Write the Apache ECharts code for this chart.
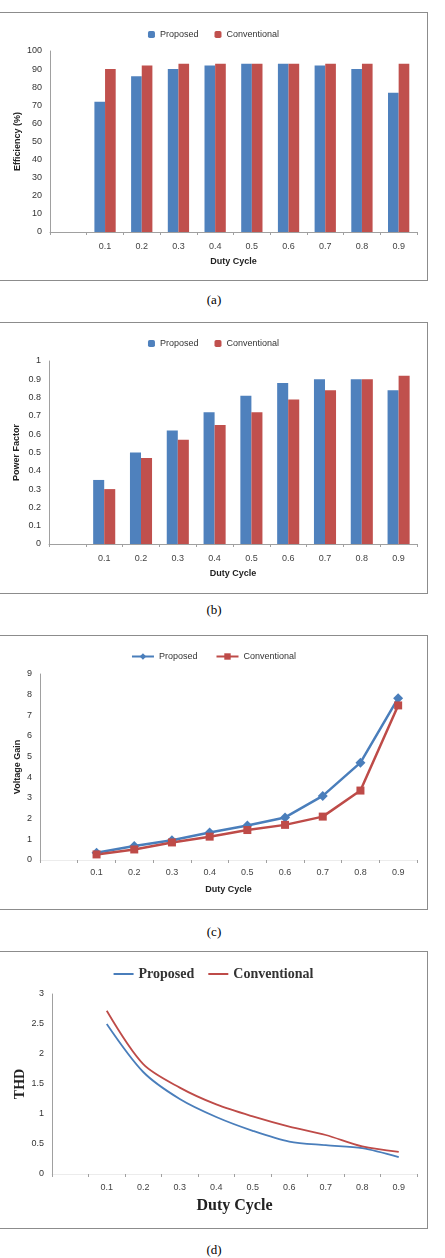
<!DOCTYPE html>
<html>
<head>
<meta charset="utf-8">
<script src="https://cdn.jsdelivr.net/npm/echarts@6/dist/echarts.min.js"></script>
<style>
  body { margin: 0; background: #fff; }
  .box { position: absolute; left: 0; width: 428px; border: 1px solid #8c8c8c; border-left: none; box-sizing: border-box; }
  .cap { position: absolute; left: 0; width: 428px; text-align: center; font-family: 'Liberation Serif', serif; font-size: 13px; color: #000; }
</style>
</head>
<body>
<div id="chartA" class="box" style="top: 12px; height: 269px"></div>
<div class="cap" style="top: 292px">(a)</div>
<div id="chartB" class="box" style="top: 322px; height: 272px"></div>
<div class="cap" style="top: 602px">(b)</div>
<div id="chartC" class="box" style="top: 635px; height: 275px"></div>
<div class="cap" style="top: 924px">(c)</div>
<div id="chartD" class="box" style="top: 951px; height: 278px"></div>
<div class="cap" style="top: 1242px">(d)</div>

<script>
// duty cycle categories (first slot is empty in the original charts)
var dutyCycle = ['0.1', '0.2', '0.3', '0.4', '0.5', '0.6', '0.7', '0.8', '0.9']

// (a) efficiency
var effProposed = [72, 86, 90, 92, 93, 93, 92, 90, 77]
var effConventional = [90, 92, 93, 93, 93, 93, 93, 93, 93]

// (b) power factor
var pfProposed = [0.35, 0.50, 0.62, 0.72, 0.81, 0.88, 0.90, 0.90, 0.84]
var pfConventional = [0.30, 0.47, 0.57, 0.65, 0.72, 0.79, 0.84, 0.90, 0.92]

// (c) voltage gain
var gainProposed = [0.35, 0.68, 0.96, 1.33, 1.67, 2.06, 3.1, 4.71, 7.83]
var gainConventional = [0.27, 0.51, 0.85, 1.13, 1.45, 1.7, 2.1, 3.36, 7.48]

// (d) THD
var thdProposed = [2.5, 1.7, 1.25, 0.95, 0.72, 0.54, 0.48, 0.43, 0.28]
var thdConventional = [2.72, 1.83, 1.44, 1.16, 0.96, 0.79, 0.65, 0.46, 0.37]

var blue = '#4f81bd'
var red = '#c0504d'
var sans = 'Liberation Sans'
var serif = 'Liberation Serif'

var cats = [''].concat(dutyCycle)
function pad (arr) { return [null].concat(arr) }

function xAxis (opt) {
  return {
    type: 'category',
    data: cats,
    name: 'Duty Cycle',
    nameLocation: 'middle',
    nameGap: opt.nameGap || 25,
    nameMoveOverlap: false,
    nameTextStyle: opt.nameStyle || { fontFamily: sans, fontSize: 9, fontWeight: 'bold', color: '#222' },
    axisLine: { lineStyle: { color: opt.lineColor || '#a0a0a0', width: 1 } },
    axisTick: { show: true, length: 3, lineStyle: { color: '#a0a0a0' } },
    axisLabel: { fontFamily: sans, fontSize: 9, color: '#444', margin: opt.margin || 10 }
  }
}

function yAxis (opt) {
  return {
    type: 'value',
    min: 0,
    max: opt.max,
    interval: opt.interval,
    name: opt.name,
    nameLocation: 'middle',
    nameGap: opt.nameGap || 28,
    nameMoveOverlap: false,
    nameTextStyle: opt.nameStyle || { fontFamily: sans, fontSize: 9, fontWeight: 'bold', color: '#222' },
    axisLine: { show: true, lineStyle: { color: '#a0a0a0', width: 1 } },
    axisTick: { show: false },
    splitLine: { show: false },
    axisLabel: { fontFamily: sans, fontSize: 9, color: '#333', margin: 8 }
  }
}

function legend (top, style) {
  style = style || {}
  var lg = {
    top: top,
    left: 'center',
    itemWidth: style.w || 7,
    itemHeight: style.h || 7,
    itemGap: style.gap || 16,
    textStyle: style.text || { fontFamily: sans, fontSize: 9, color: '#333' },
    data: ['Proposed', 'Conventional']
  }
  if (style.icon) lg.icon = style.icon
  return lg
}

// (a)
var chartA = echarts.init(document.getElementById('chartA'))
chartA.setOption({
  animation: false,
  legend: legend(12),
  grid: { left: 50, right: 10, top: 38, bottom: 48 },
  xAxis: xAxis({}),
  yAxis: yAxis({ max: 100, interval: 10, name: 'Efficiency (%)' }),
  series: [
    { name: 'Proposed', type: 'bar', barWidth: '29%', barGap: '0%', itemStyle: { color: blue }, data: pad(effProposed) },
    { name: 'Conventional', type: 'bar', barWidth: '29%', barGap: '0%', itemStyle: { color: red }, data: pad(effConventional) }
  ]
})

// (b)
var chartB = echarts.init(document.getElementById('chartB'))
chartB.setOption({
  animation: false,
  legend: legend(11),
  grid: { left: 49, right: 10, top: 38, bottom: 49 },
  xAxis: xAxis({}),
  yAxis: yAxis({ max: 1, interval: 0.1, name: 'Power Factor' }),
  series: [
    { name: 'Proposed', type: 'bar', barWidth: '30%', barGap: '0%', itemStyle: { color: blue }, data: pad(pfProposed) },
    { name: 'Conventional', type: 'bar', barWidth: '30%', barGap: '0%', itemStyle: { color: red }, data: pad(pfConventional) }
  ]
})

// (c)
var chartC = echarts.init(document.getElementById('chartC'))
chartC.setOption({
  animation: false,
  legend: legend(11, { w: 22, h: 8, gap: 18 }),
  grid: { left: 40, right: 10, top: 38, bottom: 49 },
  xAxis: xAxis({ lineColor: '#ececec', margin: 8 }),
  yAxis: yAxis({ max: 9, interval: 1, name: 'Voltage Gain', nameGap: 18 }),
  series: [
    {
      name: 'Proposed', type: 'line', symbol: 'diamond', symbolSize: 10,
      lineStyle: { color: '#4a7ebb', width: 2.5 }, itemStyle: { color: '#4a7ebb' },
      data: pad(gainProposed)
    },
    {
      name: 'Conventional', type: 'line', symbol: 'rect', symbolSize: 8,
      lineStyle: { color: '#be4b48', width: 2.5 }, itemStyle: { color: '#be4b48' },
      data: pad(gainConventional)
    }
  ]
})

// (d)
var chartD = echarts.init(document.getElementById('chartD'))
chartD.setOption({
  animation: false,
  legend: legend(10, {
    w: 20, h: 2, gap: 14, icon: 'rect',
    text: { fontFamily: serif, fontSize: 14, fontWeight: 'bold', color: '#333' }
  }),
  grid: { left: 52, right: 10, top: 42, bottom: 54 },
  xAxis: xAxis({
    lineColor: '#ececec',
    margin: 9,
    nameGap: 24,
    nameStyle: { fontFamily: serif, fontSize: 16, fontWeight: 'bold', color: '#222' }
  }),
  yAxis: yAxis({
    max: 3,
    interval: 0.5,
    name: 'THD',
    nameGap: 25,
    nameStyle: { fontFamily: serif, fontSize: 14, fontWeight: 'bold', color: '#222' }
  }),
  series: [
    {
      name: 'Proposed', type: 'line', smooth: 0.3, symbol: 'none',
      lineStyle: { color: '#4a7ebb', width: 1.8 }, itemStyle: { color: '#4a7ebb' },
      data: pad(thdProposed)
    },
    {
      name: 'Conventional', type: 'line', smooth: 0.3, symbol: 'none',
      lineStyle: { color: '#be4b48', width: 1.8 }, itemStyle: { color: '#be4b48' },
      data: pad(thdConventional)
    }
  ]
})
</script>
</body>
</html>
